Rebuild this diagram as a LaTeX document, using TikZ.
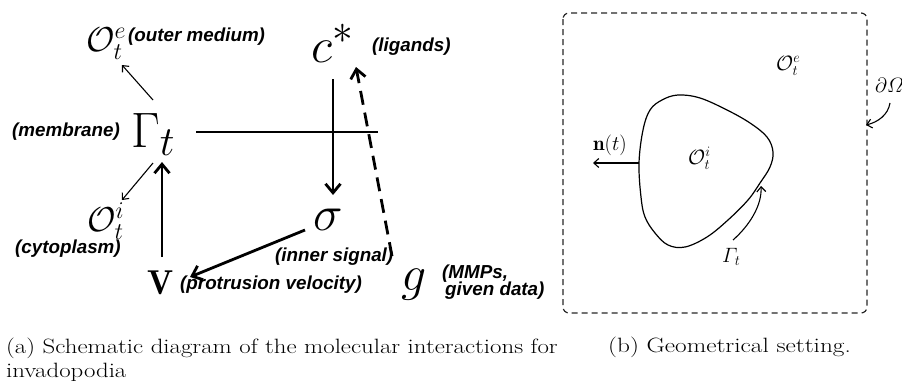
\documentclass[tikz,border=0pt]{standalone}
\usepackage{fontspec}
\usepackage{graphicx}
\newfontfamily\lblfont{Liberation Sans}
\usetikzlibrary{arrows.meta}
\newcommand\bigmath[1]{\scalebox{2}{$#1$}}
\begin{document}
\begin{tikzpicture}[x=1pt,y=-1pt,
  lbl/.style={font=\lblfont\bfseries\itshape\fontsize{18.8}{17}\selectfont, inner sep=0pt, anchor=base west},
  bigm/.style={font=\fontsize{24.88}{30}\selectfont, inner sep=0pt, anchor=base west},
  midm/.style={font=\fontsize{17.28}{21}\selectfont, inner sep=0pt, anchor=base west},
  smm/.style={font=\fontsize{20.74}{25}\selectfont, inner sep=0pt, anchor=base west},
  captext/.style={font=\fontsize{20.7}{24.8}\selectfont, inner sep=0pt, anchor=base west},
  thickarrow/.style={line width=2.8pt, -{Straight Barb[length=9pt,width=15pt]}},
  thinarrow/.style={line width=1.1pt, -{Straight Barb[length=5pt,width=9pt]}},
]
\useasboundingbox (0,0) rectangle (902,383);

% ---------- left: schematic ----------
\node[midm] (Oe) at (86,51) {\bigmath{\mathcal{O}_t^e}};
\node[lbl] (Oelbl) at (128,41) {(outer medium)};
\node[bigm] (G) at (131,147) {\bigmath{\Gamma_t}};
\node[lbl] (Glbl) at (12,136) {(membrane)};
\node[bigm] (c) at (311,62) {\bigmath{c^*}};
\node[lbl] (clbl) at (372,51) {(ligands)};
\node[bigm] (s) at (313,230) {\bigmath{\sigma}};
\node[lbl] (slbl) at (275,261) {(inner signal)};
\node[midm] (V) at (147,294) {\bigmath{\mathbf{V}}};
\node[lbl] (Vlbl) at (180,289) {(protrusion velocity)};
\node[bigm] (g) at (401,290) {\bigmath{g}};
\node[lbl] (glbl1) at (442,278) {(MMPs,};
\node[lbl] (glbl2) at (445,295) {given data)};
\node[midm] (Oi) at (87,231) {\bigmath{\mathcal{O}_t^i}};
\node[lbl] (Oilbl) at (15,253) {(cytoplasm)};

\coordinate (GtoOe) at (153,100);
\coordinate (OeIn) at (122,65);
\coordinate (GtoOi) at (153,163);
\coordinate (OiIn) at (122,200);
\coordinate (cOut) at (333,79);
\coordinate (sIn) at (333,195);
\coordinate (hA) at (196,132);
\coordinate (hB) at (378,132);
\coordinate (VOut) at (162,257);
\coordinate (GIn) at (162,162);
\coordinate (sOut) at (305,230);
\coordinate (VIn) at (190,277);
\coordinate (gOut) at (392,256);
\coordinate (cIn) at (356,67);

\draw[thinarrow] (GtoOe) -- (OeIn);
\draw[thinarrow] (GtoOi) -- (OiIn);
\draw[thickarrow] (cOut) -- (sIn);
\draw[line width=2.8pt] (hA) -- (hB);
\draw[thickarrow] (VOut) -- (GIn);
\draw[thickarrow] (sOut) -- (VIn);
\draw[thickarrow, dash pattern=on 14pt off 8pt] (gOut) -- (cIn);

% ---------- right: geometry ----------
\draw[black!85, line width=1.2pt, dash pattern=on 6pt off 4pt, rounded corners=6pt] (563,13) rectangle (867,313);
\draw[line width=1.2pt] plot[smooth cycle, tension=0.6] coordinates {
 (639,163) (643,130) (650,110) (662,100) (678,95) (700,98) (727,110) (750,123)
 (767,137) (773,152) (770,167) (760,183) (748,200) (728,220) (707,237) (685,247)
 (668,245) (655,233) (645,217) (641,197)};
\node[smm] (nt) at (593,150) {$\mathbf{n}(t)$};
\node[smm] (Oi2) at (688,164) {$\mathcal{O}_t^i$};
\node[smm] (Oe2) at (776,70) {$\mathcal{O}_t^e$};
\node[smm] (Gt) at (722,262) {$\mathnormal{\Gamma}_t$};
\node[smm] (dO) at (875,92) {$\partial\mathnormal{\Omega}$};
\coordinate (nA) at (639,163);
\coordinate (nB) at (593,163);
\coordinate (GtA) at (733,240);
\coordinate (GtB) at (761,186);
\coordinate (dOA) at (890,103);
\coordinate (dOB) at (866,125);
\draw[thinarrow] (nA) -- (nB);
\draw[thinarrow] (GtA) .. controls (750,225) and (762,205) .. (GtB);
\draw[thinarrow] (dOA) .. controls (888,115) and (878,122) .. (dOB);

% ---------- captions ----------
\node[captext] (capa1) at (6,353) {\scalebox{1.2}[1]{(a) Schematic diagram of the molecular interactions for}};
\node[captext] (capa2) at (6,377) {\scalebox{1.2}[1]{invadopodia}};
\node[captext] (capb) at (608,352) {\scalebox{1.22}[1]{(b) Geometrical setting.}};
\end{tikzpicture}
\end{document}
